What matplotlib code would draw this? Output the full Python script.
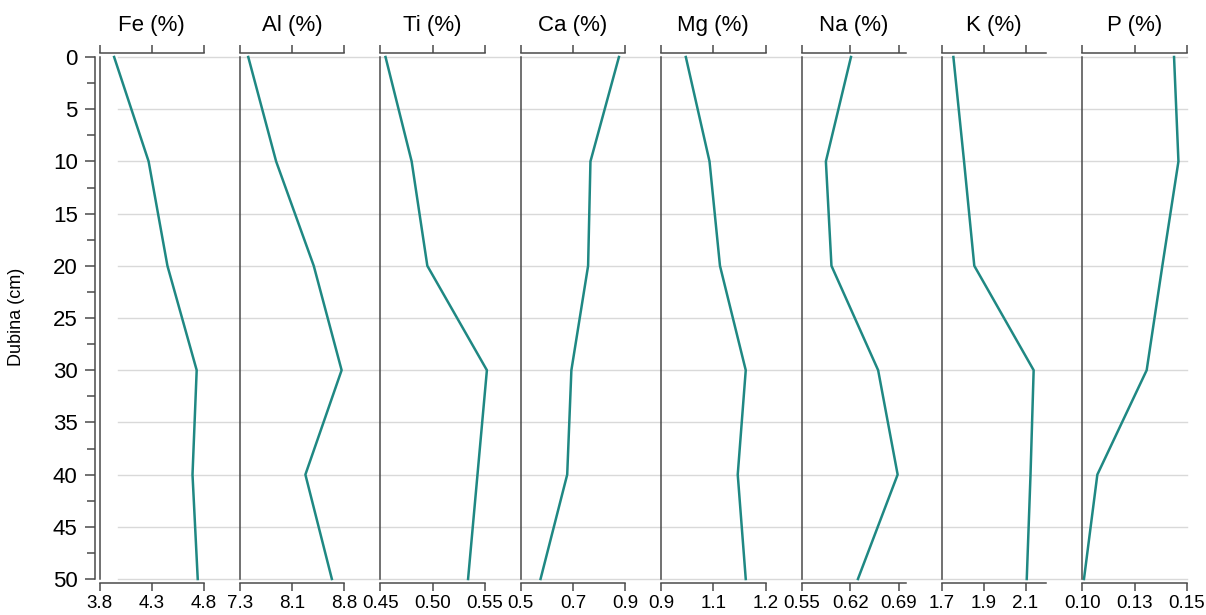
import matplotlib
matplotlib.use("Agg")
import matplotlib.pyplot as plt
import numpy as np

plt.rcParams['font.family'] = ['Liberation Sans', 'DejaVu Sans']

# depth of samples (cm)
depth = [0, 10, 20, 30, 40, 50]

# element contents (%)
fe = [3.94, 4.27, 4.45, 4.73, 4.69, 4.74]
al = [7.42, 7.82, 8.36, 8.76, 8.24, 8.62]
ti = [0.455, 0.480, 0.495, 0.552, 0.543, 0.534]
ca = [0.876, 0.767, 0.758, 0.694, 0.678, 0.576]
mg = [0.971, 1.039, 1.069, 1.143, 1.120, 1.143]
na = [0.621, 0.585, 0.593, 0.660, 0.688, 0.631]
k = [1.755, 1.806, 1.855, 2.139, 2.124, 2.106]
p = [0.1439, 0.1460, 0.1383, 0.1308, 0.1072, 0.1008]

titles = ['Fe (%)', 'Al (%)', 'Ti (%)', 'Ca (%)', 'Mg (%)', 'Na (%)', 'K (%)', 'P (%)']
series = [fe, al, ti, ca, mg, na, k, p]
xlims = [(3.8, 4.8), (7.3, 8.8), (0.45, 0.55), (0.5, 0.9),
         (0.9, 1.2), (0.55, 0.70), (1.7, 2.2), (0.10, 0.15)]
xticks = [[3.8, 4.3, 4.8], [7.3, 8.05, 8.8], [0.45, 0.50, 0.55], [0.5, 0.7, 0.9],
          [0.9, 1.05, 1.2], [0.55, 0.62, 0.69], [1.7, 1.9, 2.1], [0.10, 0.125, 0.15]]
xticklabels = [['3.8', '4.3', '4.8'], ['7.3', '8.1', '8.8'], ['0.45', '0.50', '0.55'],
               ['0.5', '0.7', '0.9'], ['0.9', '1.1', '1.2'], ['0.55', '0.62', '0.69'],
               ['1.7', '1.9', '2.1'], ['0.10', '0.13', '0.15']]

W, H = 1206, 615
fig = plt.figure(figsize=(W / 100, H / 100), dpi=100)

line_color = '#1f8883'
axis_color = '#4a4a4a'
top_px, bot_px = 57, 579
ax_bottom = 1 - bot_px / H
ax_height = (bot_px - top_px) / H

# background axes just for the horizontal gridlines
bg = fig.add_axes([118 / W, ax_bottom, (1187 - 118) / W, ax_height], zorder=0)
bg.set_ylim(50, 0)
bg.set_xlim(0, 1)
for d in np.arange(0, 51, 5):
    bg.axhline(d, color='#d9d9d9', lw=1.0, clip_on=False)
bg.axis('off')

for i, (name, vals) in enumerate(zip(titles, series)):
    left = (99.5 + 140.4 * i) / W
    ax = fig.add_axes([left, ax_bottom, 104.5 / W, ax_height], zorder=1)
    ax.set_facecolor('none')
    ax.plot(vals, depth, color=line_color, lw=1.8, clip_on=False)
    ax.set_xlim(*xlims[i])
    ax.set_ylim(50, 0)
    ax.set_xticks(xticks[i])
    ax.set_xticklabels(xticklabels[i])
    ax.axvline(xlims[i][0], color=axis_color, lw=1.1, clip_on=False)

    ax.spines['right'].set_visible(False)
    for s in ['top', 'bottom']:
        ax.spines[s].set_position(('outward', 3.2))
        ax.spines[s].set_color(axis_color)
        ax.spines[s].set_linewidth(1.1)
    ax.tick_params(axis='x', which='both', top=True, bottom=True, labeltop=False,
                   labelbottom=True, direction='out', length=5.5, width=1.1,
                   color=axis_color, labelsize=13.5, pad=2.5)

    if i == 0:
        ax.spines['left'].set_position(('outward', 3))
        ax.spines['left'].set_color(axis_color)
        ax.spines['left'].set_linewidth(1.1)
        ax.set_yticks(np.arange(0, 51, 5))
        ax.set_yticks(np.arange(2.5, 50, 5), minor=True)
        ax.tick_params(axis='y', which='major', length=7.2, width=1.1,
                       color=axis_color, labelsize=16, pad=5.5)
        ax.tick_params(axis='y', which='minor', length=5.8, width=1.1,
                       color=axis_color)
    else:
        ax.spines['left'].set_visible(False)
        ax.tick_params(axis='y', which='both', left=False, labelleft=False)

    fig.text(left + 52.25 / W, 1 - 25 / H, name, ha='center', va='center', fontsize=16)

fig.text(16.7 / W, 1 - 317 / H, 'Dubina (cm)', rotation=90, ha='center', va='center',
         fontsize=13)

fig.savefig('out.png', dpi=100)
